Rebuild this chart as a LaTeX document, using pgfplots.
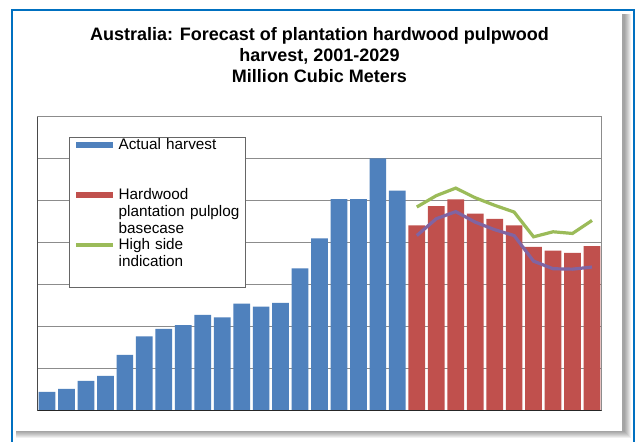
\documentclass[border=0pt]{standalone}
\usepackage{fontspec}
\setmainfont{Liberation Sans}
\usepackage{pgfplots}
\pgfplotsset{compat=1.18}

\definecolor{xlblue}{HTML}{4F81BD}
\definecolor{xlred}{HTML}{C0504D}
\definecolor{xlgreen}{HTML}{9BBB59}
\definecolor{xlpurple}{HTML}{8064A2}
\definecolor{frameblue}{HTML}{0070C0}
\definecolor{gridgray}{HTML}{8C8C8C}

\begin{document}
\begin{tikzpicture}
\useasboundingbox (0,0) rectangle (635bp,442bp);
% outer frame and chart area with shadow
\fill[white] (0,0) rectangle (635bp,442bp);
\foreach \k in {0,...,6}
  \fill[black, opacity=0.06] (16bp,{(4+\k)*1bp}) rectangle ({(631-\k)*1bp},428bp);
\fill[white] (13bp,11bp) rectangle (622bp,431bp);
\draw[frameblue, line width=2bp] (12bp,-5bp) -- (12bp,432bp) -- (633.5bp,432bp) -- (633.5bp,-5bp);

\begin{axis}[
    at={(37.3bp,31.3bp)}, anchor=south west,
    scale only axis,
    width=564.4bp, height=294bp,
    xmin=2000.5, xmax=2029.5,
    ymin=0, ymax=7,
    xtick=\empty,
    ytick={1,2,3,4,5,6},
    yticklabels={},
    major tick length=0pt,
    ymajorgrids,
    major grid style={gridgray, line width=0.8bp},
    axis line style={gridgray, line width=0.8bp},
    title={Australia:  Forecast of plantation hardwood pulpwood\\harvest, 2001-2029\\Million Cubic Meters},
    title style={align=center, font=\bfseries\fontsize{18bp}{21bp}\selectfont,
        inner sep=0pt, at={(0.5,1)}, anchor=north, yshift=83.8bp},
    legend style={at={(0.0562,0.931)}, anchor=north west,
        draw=gray!80!black, line width=0.8bp, fill=white,
        inner xsep=5bp, inner ysep=1bp,
        font=\fontsize{15.3bp}{17bp}\selectfont,
        cells={anchor=base west},
        nodes={inner sep=0pt, text height=11bp, text depth=37bp, text width=122bp, align=left},
        row sep=2bp, column sep=4bp},
]
\addplot[ybar, bar width=16.7bp, bar shift=0pt, fill=xlblue, draw=none,
    legend image code/.code={\fill[xlblue] (0bp,1bp) rectangle (37bp,7.7bp);}]
  coordinates {
    (2001,0.45) (2002,0.52) (2003,0.71) (2004,0.83) (2005,1.33) (2006,1.77)
    (2007,1.95) (2008,2.04) (2009,2.28) (2010,2.22) (2011,2.55) (2012,2.48)
    (2013,2.57) (2014,3.39) (2015,4.10) (2016,5.04) (2017,5.04) (2018,6.01)
    (2019,5.24)
  };
\addlegendentry{Actual harvest}
\addplot[ybar, bar width=16.7bp, bar shift=0pt, fill=xlred, draw=none,
    legend image code/.code={\fill[xlred] (0bp,1bp) rectangle (37bp,7.7bp);}]
  coordinates {
    (2020,4.41) (2021,4.87) (2022,5.03) (2023,4.69) (2024,4.57) (2025,4.41)
    (2026,3.90) (2027,3.81) (2028,3.76) (2029,3.92)
  };
\addlegendentry{Hardwood\\plantation pulplog\\basecase}
\addplot[sharp plot, no marks, color=xlgreen, line width=3.2bp,
    legend image code/.code={\draw[xlgreen, line width=3.2bp] (0bp,4.3bp) -- (37bp,4.3bp);}]
  coordinates {
    (2020,4.85) (2021,5.12) (2022,5.30) (2023,5.07) (2024,4.89) (2025,4.73)
    (2026,4.14) (2027,4.26) (2028,4.22) (2029,4.53)
  };
\addlegendentry{High side\\indication}
\addplot[sharp plot, no marks, color=xlpurple, line width=3.2bp, forget plot]
  coordinates {
    (2020,4.17) (2021,4.57) (2022,4.74) (2023,4.49) (2024,4.31) (2025,4.17)
    (2026,3.56) (2027,3.38) (2028,3.37) (2029,3.42)
  };
\draw[black!85, line width=0.9bp] (rel axis cs:0,1) -- (rel axis cs:0,0) -- (rel axis cs:1,0);
\end{axis}
\end{tikzpicture}
\end{document}
